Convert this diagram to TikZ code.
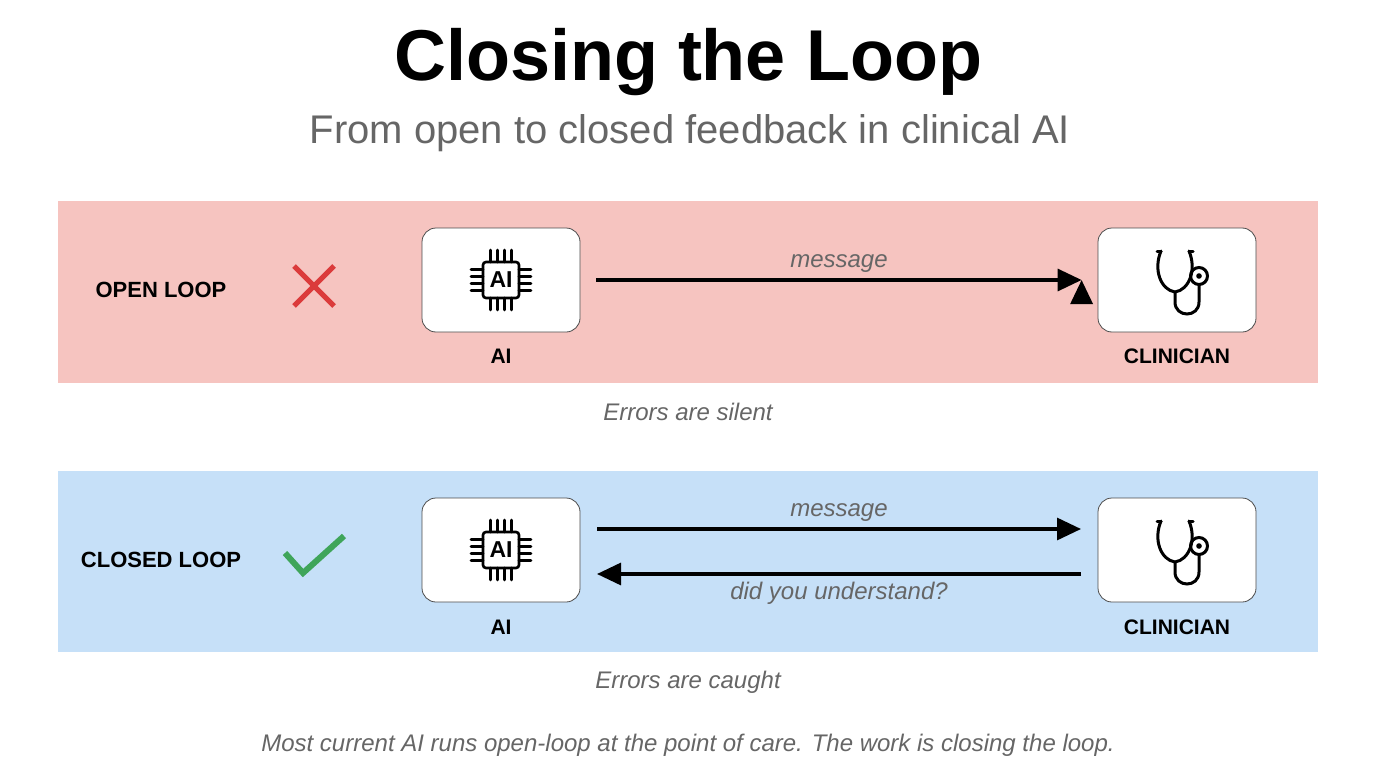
\documentclass[tikz,border=0pt]{standalone}
\usepackage{fontspec}
\setmainfont{Liberation Sans}
\usetikzlibrary{arrows.meta,positioning}
\definecolor{openband}{HTML}{F6C4C0}
\definecolor{closedband}{HTML}{C6E0F8}
\definecolor{note}{HTML}{666666}
\definecolor{crossred}{HTML}{DB3B3B}
\definecolor{tickgreen}{HTML}{3FA55A}
\tikzset{band/.style={draw=none},
  actor/.style={rectangle,rounded corners=14pt,draw=black!70,line width=0.8pt,fill=white,minimum width=158pt,minimum height=104pt},
  role/.style={font=\fontsize{21}{24}\selectfont\bfseries},
  tag/.style={font=\fontsize{22}{26}\selectfont\bfseries},
  say/.style={font=\fontsize{24}{28}\selectfont\itshape,text=note},
  flow/.style={-{Triangle[length=24pt,width=22pt]},line width=3.2pt},
  icon/.style={line width=2.6pt,line cap=round}}
\newcommand{\chipicon}[2]{%
  \begin{scope}[shift={(#1,#2)},icon]
  \draw[rounded corners=3pt] (-18,-18) rectangle (18,18);
  \node[font=\fontsize{23}{24}\selectfont\bfseries] at (0,0) {AI};
  \foreach \p in {-10.5,-3.5,3.5,10.5} {
    \draw (\p,-18) -- (\p,-30); \draw (\p,18) -- (\p,30);
    \draw (-18,\p) -- (-30,\p); \draw (18,\p) -- (30,\p);}
  \end{scope}}
\newcommand{\stethoicon}[2]{%
  \begin{scope}[shift={(#1,#2)},icon,line width=3pt]
  \draw (-20,-29) -- (-16,-29) (12,-29) -- (16,-29);
  \draw (-16,-29) .. controls (-24,-10) and (-16,10) .. (-2,12)
        .. controls (12,10) and (20,-10) .. (12,-29);
  \draw (-2,12) -- (-2,22) .. controls (-2,38) and (22,38) .. (22,22) -- (22,5);
  \draw (22,-4) circle (8.5pt);
  \fill (22,-4) circle (2.8pt);
  \end{scope}}
\begin{document}
\begin{tikzpicture}[x=1pt,y=-1pt]
\useasboundingbox (0,0) rectangle (1376,768);

\node (title) at (688,62) {\fontsize{72}{80}\selectfont\bfseries Closing the Loop};
\node (sub) at (690,133) [text=note] {\fontsize{40}{46}\selectfont From open to closed feedback in clinical AI};

% open loop
\fill[openband] (58,201) rectangle (1318,383);
\node (otag) at (161,290) [tag] {OPEN LOOP};
\draw[crossred,line width=5pt] (294,266) -- (334,306) (334,266) -- (294,306);
\node (oai) at (501,280) [actor] {};
\node (ocl) at (1177,280) [actor] {};
\chipicon{501}{280}
\stethoicon{1177}{280}
\node (oail) at (501,356) [role] {AI};
\node (ocll) at (1177,356) [role] {CLINICIAN};
\draw[flow] (oai.east)+(16,0) coordinate (oa) (ocl.west)+(-16,0) coordinate (ob);
\draw[flow] (oa) -- node[above=3pt,say] {message} (ob);
\node (onote) at (688,412) [say] {Errors are silent};

% closed loop
\fill[closedband] (58,471) rectangle (1318,652);
\node (ctag) at (161,560) [tag] {CLOSED LOOP};
\draw[tickgreen,line width=6pt] (285,553) -- (303,573) -- (344,536);
\node (cai) at (501,550) [actor] {};
\node (ccl) at (1177,550) [actor] {};
\chipicon{501}{550}
\stethoicon{1177}{550}
\node (cail) at (501,627) [role] {AI};
\node (ccll) at (1177,627) [role] {CLINICIAN};
\coordinate (ca) at (597,529);
\coordinate (cb) at (1081,529);
\coordinate (cc) at (1081,574);
\coordinate (cd) at (597,574);
\draw[flow] (ca) -- node[above=3pt,say] {message} (cb);
\draw[flow] (cc) -- node[below=3pt,say] {did you understand?} (cd);
\node (cnote) at (688,682) [say] {Errors are caught};

\node (foot) at (688,745) [say] {Most current AI runs open-loop at the point of care. The work is closing the loop.};
\end{tikzpicture}
\end{document}
